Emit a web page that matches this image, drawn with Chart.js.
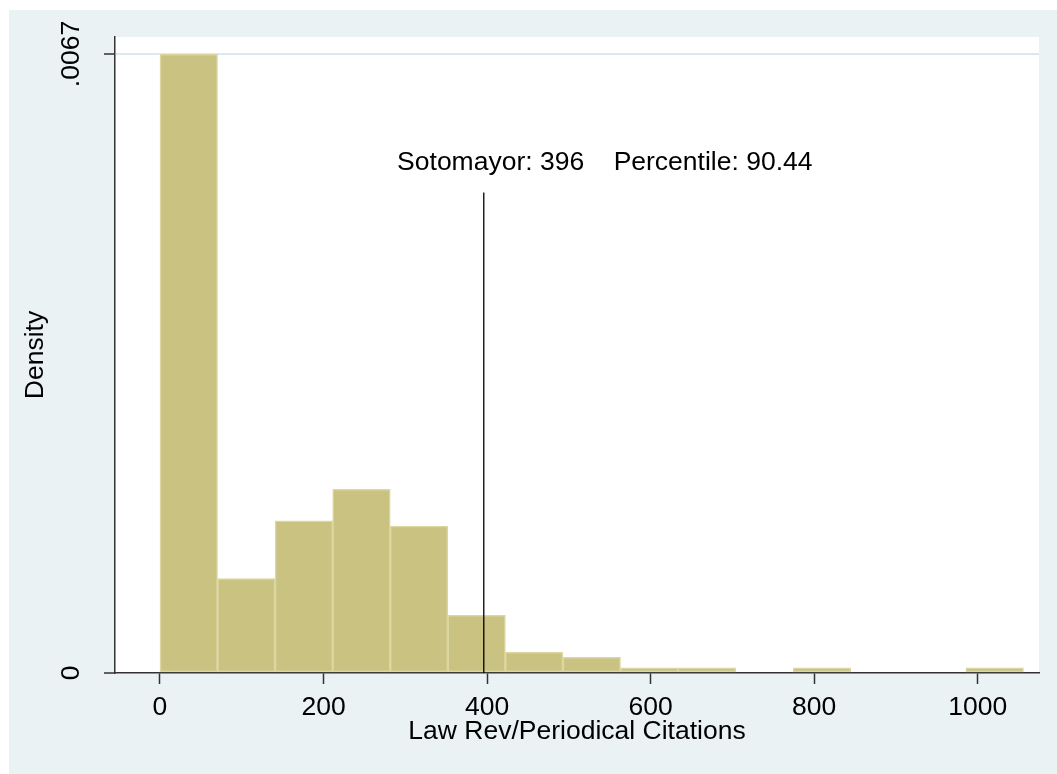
<!DOCTYPE html>
<html>
<head>
<meta charset="utf-8">
<script src="https://cdn.jsdelivr.net/npm/chart.js@4.4.1/dist/chart.umd.min.js"></script>
<style>
  html, body { margin: 0; padding: 0; background: #ffffff; }
  canvas { display: block; }
</style>
</head>
<body>
<canvas id="hist" width="1057" height="774"></canvas>
<script>
// Histogram bins: centre of each bin (citations) and its density
const binCenters = [35.2, 105.6, 176.0, 246.4, 316.8, 387.2, 457.6, 528.0, 598.4, 668.8, 739.2, 809.6, 880.0, 950.4, 1020.8];
const densities  = [0.0067, 0.001022, 0.001647, 0.001987, 0.00159, 0.000625, 0.000227, 0.00017, 0.0000568, 0.0000568, 0, 0.0000568, 0, 0, 0.0000568];

// Axis ticks
const xTickValues = [0, 200, 400, 600, 800, 1000];
const yTickValues = [0, 0.0067];
const yTickLabels = ['0', '.0067'];

// Reference marker for Sotomayor
const sotomayorCitations = 396;
const sotomayorPercentile = '90.44';
const markerTopDensity = 0.0052;
const markerText = 'Sotomayor: ' + sotomayorCitations + '    Percentile: ' + sotomayorPercentile;
const markerTextAnchor = [290, 0.00552];   // [citations, density] of the text's left end

const FONT_FAMILY = '"Liberation Sans", Arial, Helvetica, sans-serif';
const FONT_SIZE = 26.5;
const BG_PANEL = '#eaf2f3';
const GRID = '#dde8ed';
const AXIS = '#333333';

const backdrop = {
  id: 'backdrop',
  beforeDraw(chart) {
    const { ctx, chartArea: a } = chart;
    ctx.save();
    ctx.fillStyle = '#ffffff';
    ctx.fillRect(0, 0, chart.width, chart.height);
    ctx.fillStyle = BG_PANEL;
    ctx.fillRect(9, 10, chart.width - 9, chart.height - 10);
    ctx.fillStyle = '#ffffff';
    ctx.fillRect(a.left, a.top, a.right - a.left, a.bottom - a.top);
    ctx.restore();
  }
};

// Rotated y tick labels, placed at the scale's own pixel positions
const yLabels = {
  id: 'yLabels',
  afterDraw(chart) {
    const { ctx } = chart;
    const ys = chart.scales.y;
    ctx.save();
    ctx.fillStyle = '#000';
    ctx.font = FONT_SIZE + 'px ' + FONT_FAMILY;
    ctx.textAlign = 'center';
    ctx.textBaseline = 'middle';
    yTickValues.forEach((v, i) => {
      ctx.save();
      ctx.translate(72, ys.getPixelForValue(v));
      ctx.rotate(-Math.PI / 2);
      ctx.fillText(yTickLabels[i], 0, 0);
      ctx.restore();
    });
    ctx.restore();
  }
};

const markerLabel = {
  id: 'markerLabel',
  afterDatasetsDraw(chart) {
    const { ctx, scales } = chart;
    ctx.save();
    ctx.fillStyle = '#000';
    ctx.font = FONT_SIZE + 'px ' + FONT_FAMILY;
    ctx.textAlign = 'left';
    ctx.textBaseline = 'middle';
    ctx.fillText(markerText,
      scales.x.getPixelForValue(markerTextAnchor[0]),
      scales.y.getPixelForValue(markerTextAnchor[1]));
    ctx.restore();
  }
};

const font = { family: FONT_FAMILY, size: FONT_SIZE };

new Chart(document.getElementById('hist'), {
  type: 'bar',
  data: {
    datasets: [
      {
        type: 'bar',
        data: binCenters.map((c, i) => ({ x: c, y: densities[i] })),
        backgroundColor: '#c9c281',
        borderColor: '#dcd7a2',
        borderWidth: 1.5,
        borderSkipped: false,
        barPercentage: 1,
        categoryPercentage: 1,
        order: 2
      },
      {
        type: 'line',
        data: [{ x: sotomayorCitations, y: 0 }, { x: sotomayorCitations, y: markerTopDensity }],
        borderColor: '#000',
        borderWidth: 1.3,
        pointRadius: 0,
        fill: false,
        order: 1
      }
    ]
  },
  options: {
    responsive: false,
    animation: false,
    devicePixelRatio: 1,
    layout: { padding: { left: 0, top: 37, right: 18, bottom: 0 } },
    plugins: { legend: { display: false }, tooltip: { enabled: false } },
    scales: {
      x: {
        type: 'linear',
        min: -55,
        max: 1075,
        offset: false,
        z: 1,
        afterBuildTicks: s => { s.ticks = xTickValues.map(v => ({ value: v })); },
        afterFit: s => { s.height = 101; },
        ticks: { font, color: '#000', padding: 8, maxRotation: 0, minRotation: 0, autoSkip: false, callback: v => String(v) },
        grid: { offset: false, drawOnChartArea: false, drawTicks: true, tickLength: 11, tickColor: AXIS, tickWidth: 1.5 },
        border: { display: true, color: AXIS, width: 1.5 },
        title: { display: true, text: 'Law Rev/Periodical Citations', font, color: '#000', padding: { top: 0, bottom: 26 } }
      },
      y: {
        type: 'linear',
        min: 0,
        max: 0.006884,
        afterBuildTicks: s => { s.ticks = yTickValues.map(v => ({ value: v })); },
        afterFit: s => { s.width = 115; },
        ticks: { display: false },
        grid: {
          color: c => (c.tick && c.tick.value > 0 ? GRID : 'rgba(0,0,0,0)'),
          lineWidth: 2,
          drawTicks: true,
          tickLength: 11,
          tickColor: AXIS,
          tickWidth: 1.5
        },
        border: { display: true, color: AXIS, width: 1.5 },
        title: { display: true, text: 'Density', font, color: '#000', padding: { top: 20, bottom: 0 } }
      }
    }
  },
  plugins: [backdrop, yLabels, markerLabel]
});
</script>
</body>
</html>
